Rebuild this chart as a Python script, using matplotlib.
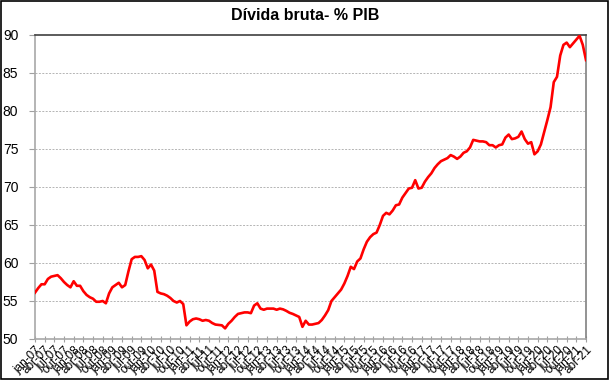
import matplotlib
matplotlib.use("Agg")
import matplotlib.pyplot as plt
from matplotlib.patches import Rectangle

plt.rcParams['font.family'] = ['Liberation Sans', 'DejaVu Sans']

title = "Dívida bruta- % PIB"

# monthly values, jan-07 .. abr-21
divida = [
    56.1, 56.7, 57.2, 57.2, 57.9, 58.2, 58.3, 58.4, 58.0, 57.5, 57.1, 56.8,   # 2007
    57.6, 57.0, 57.0, 56.3, 55.8, 55.5, 55.3, 54.9, 54.9, 55.0, 54.7, 56.0,   # 2008
    56.8, 57.1, 57.4, 56.8, 57.1, 58.9, 60.5, 60.8, 60.8, 60.9, 60.4, 59.3,   # 2009
    59.8, 59.0, 56.2, 56.0, 55.9, 55.7, 55.4, 55.0, 54.8, 55.0, 54.6, 51.8,   # 2010
    52.3, 52.6, 52.7, 52.6, 52.4, 52.5, 52.4, 52.1, 51.9, 51.85, 51.8, 51.4,  # 2011
    52.0, 52.4, 52.9, 53.3, 53.4, 53.5, 53.5, 53.4, 54.4, 54.7, 54.0, 53.85,  # 2012
    54.0, 54.0, 54.0, 53.85, 54.0, 53.9, 53.7, 53.45, 53.3, 53.1, 52.9, 51.6, # 2013
    52.4, 51.9, 51.9, 52.0, 52.1, 52.5, 53.1, 53.8, 55.0, 55.5, 56.0, 56.5,   # 2014
    57.3, 58.3, 59.5, 59.2, 60.2, 60.6, 61.8, 62.8, 63.4, 63.8, 64.0, 65.0,   # 2015
    66.2, 66.6, 66.4, 66.9, 67.6, 67.7, 68.6, 69.2, 69.8, 69.9, 70.9, 69.8,   # 2016
    69.9, 70.7, 71.3, 71.8, 72.5, 73.0, 73.4, 73.6, 73.8, 74.2, 74.0, 73.7,   # 2017
    74.0, 74.5, 74.7, 75.2, 76.2, 76.1, 76.0, 76.0, 75.9, 75.5, 75.5, 75.2,   # 2018
    75.5, 75.6, 76.5, 76.9, 76.3, 76.4, 76.6, 77.3, 76.3, 75.7, 75.9, 74.3,   # 2019
    74.7, 75.6, 77.2, 78.8, 80.5, 83.8, 84.5, 87.3, 88.7, 89.0, 88.4, 88.9,   # 2020
    89.4, 89.9, 88.7, 86.7,                                                   # 2021
]

tick_labels = [
    "jan-07", "abr-07", "jul-07", "out-07",
    "jan-08", "abr-08", "jul-08", "out-08",
    "jan-09", "abr-09", "jul-09", "out-09",
    "jan-10", "abr-10", "jul-10", "out-10",
    "jan-11", "abr-11", "jul-11", "out-11",
    "jan-12", "abr-12", "jul-12", "out-12",
    "jan-13", "abr-13", "jul-13", "out-13",
    "jan-14", "abr-14", "jul-14", "out-14",
    "jan-15", "abr-15", "jul-15", "out-15",
    "jan-16", "abr-16", "jul-16", "out-16",
    "jan-17", "abr-17", "jul-17", "out-17",
    "jan-18", "abr-18", "jul-18", "out-18",
    "jan-19", "abr-19", "jul-19", "out-19",
    "jan-20", "abr-20", "jul-20", "out-20",
    "jan-21", "abr-21",
]

y_ticks = [50, 55, 60, 65, 70, 75, 80, 85, 90]

fig = plt.figure(figsize=(6.1, 3.8), dpi=100)
ax = fig.add_axes([35/610, 1-339/380, (586-35)/610, (339-35)/380])

x = list(range(len(divida)))
ax.plot(x, divida, color='#ff0000', lw=1.9, solid_joinstyle='round', zorder=3)

ax.set_xlim(0, len(divida)-1)
ax.set_ylim(50, 90)
ax.set_yticks(y_ticks)
ax.set_yticklabels([str(v) for v in y_ticks], fontsize=10)
ax.set_xticks(list(range(0, len(divida), 3)))
ax.set_xticklabels(tick_labels, rotation=45, ha='right', va='top',
                   rotation_mode='anchor', fontsize=8.5)

for v in y_ticks[1:-1]:
    ax.axhline(v, color='#b4b4b4', lw=0.7, ls=(0, (2, 1.5)), zorder=1)

ax.spines['top'].set_color('#404040')
ax.spines['top'].set_linewidth(1.2)
ax.spines['right'].set_color('#808080')
ax.spines['right'].set_linewidth(1.2)
ax.spines['left'].set_color('#a8a8a8')
ax.spines['left'].set_linewidth(1.2)
ax.spines['bottom'].set_color('#a8a8a8')
ax.spines['bottom'].set_linewidth(1.2)

ax.tick_params(axis='x', direction='inout', length=5, width=0.8, color='#a0a0a0', pad=1)
ax.tick_params(axis='y', direction='out', length=4, width=0.8, color='#a0a0a0', pad=8)

fig.text(305/610, 1-16/380, title, ha='center', va='center', fontsize=11.5, fontweight='bold')

fig.patches.append(Rectangle((0.001, 0.002), 0.996, 0.995, transform=fig.transFigure,
                             fill=False, edgecolor='black', lw=1.2))

fig.savefig('out.png', dpi=100)
